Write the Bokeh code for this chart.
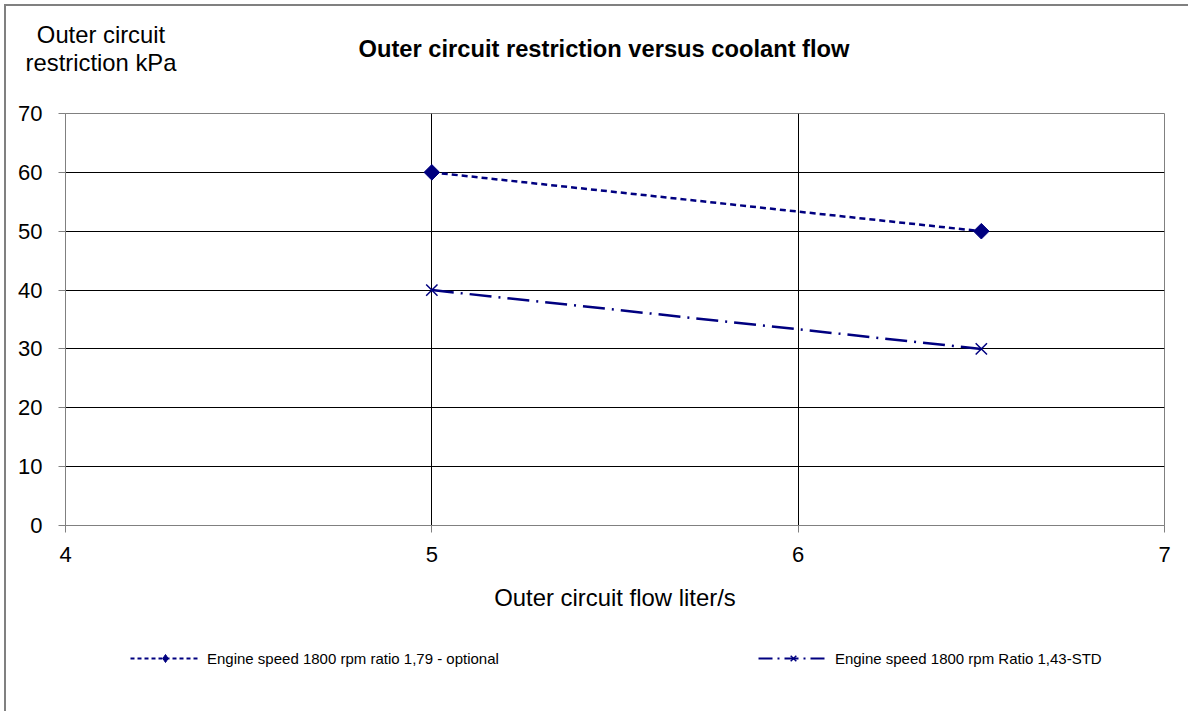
import numpy as np
from bokeh.plotting import figure
from bokeh.models import Legend, LegendItem, FixedTicker, Range1d
from bokeh.core.properties import value
from bokeh.embed import file_html
from bokeh.resources import INLINE

# ---- data ----
flow = [5.0, 6.5]
optional_kpa = [60, 50]
std_kpa = [40, 30]
series_names = ["Engine speed 1800 rpm ratio 1,79 - optional",
                "Engine speed 1800 rpm Ratio 1,43-STD"]
x_ticks = [4, 5, 6, 7]
y_ticks = [0, 10, 20, 30, 40, 50, 60, 70]
title_text = "Outer circuit restriction versus coolant flow"
y_title = ["Outer circuit", "restriction kPa"]
x_title = "Outer circuit flow liter/s"

FONT = "Liberation Sans"
NAVY = "#000080"
GRAY = "#808080"

OX, OY = 6, 6          # content origin on the page (after css margin + border)
HEAD_BOTTOM = 100
MAIN_BOTTOM = 630
W = 1190 - OX
SIDE = {"border-left": "2px solid #808080", "margin-left": "4px"}

# ---- header strip: chart title and y-axis title (coords = page pixels) ----
head = figure(width=W, height=HEAD_BOTTOM - OY, output_backend="svg",
              toolbar_location=None,
              x_range=Range1d(OX, OX + W), y_range=Range1d(HEAD_BOTTOM, OY),
              x_axis_type=None, y_axis_type=None, min_border=0)
head.styles = {"border-left": "2px solid #808080", "border-top": "2px solid #808080",
               "margin-left": "4px", "margin-top": "4px"}
head.outline_line_color = None
head.background_fill_color = "white"
head.border_fill_color = "white"
head.grid.visible = False
head.text(x=[603.5], y=[48.5], text=[title_text], text_font=value(FONT),
          text_font_size="23.7px", text_font_style="bold", text_align="center",
          text_baseline="alphabetic", text_color="black")
head.text(x=[100.5, 100.5], y=[34, 62], text=y_title, text_font=value(FONT),
          text_font_size="23.8px", text_align="center", text_baseline="alphabetic",
          text_color="black")

# ---- main chart ----
p = figure(width=W, height=MAIN_BOTTOM - HEAD_BOTTOM, output_backend="svg",
           toolbar_location=None,
           x_range=Range1d(4, 7), y_range=Range1d(0, 70),
           min_border_left=65 - OX, min_border_right=1190 - 1164,
           min_border_top=15, min_border_bottom=103)
p.styles = dict(SIDE)
p.background_fill_color = "white"
p.border_fill_color = "white"
p.outline_line_color = GRAY
p.outline_line_width = 1

for ax in (p.xaxis[0], p.yaxis[0]):
    ax.axis_line_color = GRAY
    ax.major_tick_line_color = GRAY
    ax.major_tick_out = 7
    ax.major_tick_in = 0
    ax.minor_tick_line_color = None
    ax.major_label_text_font = FONT
    ax.major_label_text_font_size = "22px"
    ax.major_label_text_color = "black"
p.xaxis.ticker = FixedTicker(ticks=x_ticks)
p.yaxis.ticker = FixedTicker(ticks=y_ticks)
p.xaxis.major_label_standoff = 14
p.yaxis.major_label_standoff = 16
p.xaxis.axis_label = x_title
p.xaxis.axis_label_text_font = FONT
p.xaxis.axis_label_text_font_size = "23.9px"
p.xaxis.axis_label_text_font_style = "normal"
p.xaxis.axis_label_text_color = "black"
p.xaxis.axis_label_standoff = 19

p.xgrid.ticker = FixedTicker(ticks=[t for t in x_ticks if t not in (x_ticks[0], x_ticks[-1])])
p.ygrid.ticker = FixedTicker(ticks=[t for t in y_ticks if t != y_ticks[0]])
for g in (p.xgrid[0], p.ygrid[0]):
    g.grid_line_color = "black"
    g.grid_line_width = 1

p.line(flow, optional_kpa, line_color=NAVY, line_width=2.5, line_dash="6 4")
p.scatter(flow, optional_kpa, marker="square", size=11, angle=np.pi / 4,
          fill_color=NAVY, line_color=NAVY)
p.line(flow, std_kpa, line_color=NAVY, line_width=2.5, line_dash="22 7 2 7")
p.scatter(flow, std_kpa, marker="x", size=16, line_color=NAVY, line_width=1.5)

# ---- legend strip (its glyphs lie outside its own ranges, only the legend shows) ----
leg = figure(width=W, height=713 - MAIN_BOTTOM, output_backend="svg",
             toolbar_location=None, x_range=Range1d(100, 101), y_range=Range1d(100, 101),
             x_axis_type=None, y_axis_type=None, min_border=0)
leg.styles = dict(SIDE)
leg.outline_line_color = None
leg.grid.visible = False
leg.background_fill_color = "white"
leg.border_fill_color = "white"
r1 = leg.line(flow, optional_kpa, line_color=NAVY, line_width=2, line_dash="4 3")
r2 = leg.scatter(flow, optional_kpa, marker="diamond", size=13,
                 fill_color=NAVY, line_color=NAVY)
r3 = leg.line(flow, std_kpa, line_color=NAVY, line_width=2, line_dash="14 5 2 5")
r4 = leg.scatter(flow, std_kpa, marker="x", size=10, line_color=NAVY, line_width=1.5)
legend = Legend(items=[LegendItem(label=series_names[0], renderers=[r1, r2]),
                       LegendItem(label=series_names[1], renderers=[r3, r4])],
                orientation="horizontal", location=(130 - OX, 43),
                glyph_width=70, glyph_height=20, label_height=20,
                label_standoff=7, spacing=259, padding=0, margin=0,
                label_text_font=FONT, label_text_font_size="15px",
                label_text_color="black",
                border_line_color=None, background_fill_alpha=0)
leg.add_layout(legend)

open("out.html", "w").write(file_html([head, p, leg], INLINE))
